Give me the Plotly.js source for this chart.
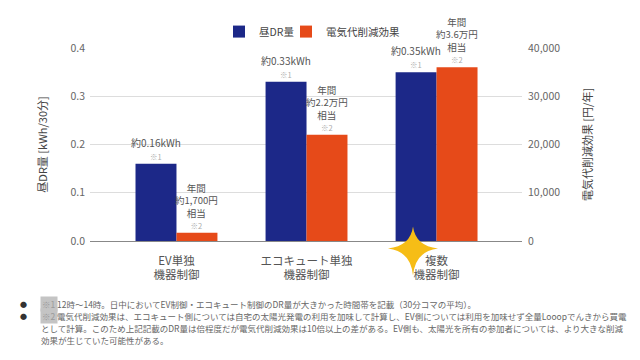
<!DOCTYPE html>
<html>
<head>
<meta charset="utf-8">
<script src="https://cdn.plot.ly/plotly-3.0.1.min.js"></script>
<style>html,body{margin:0;padding:0;background:#fff;}#chart{width:640px;height:360px;}</style>
</head>
<body>
<div id="chart"></div>
<script>
const categories = ['EV単独<br>機器制御', 'エコキュート単独<br>機器制御', '複数<br>機器制御'];
const drValues = [0.16, 0.33, 0.35];
const savingValues = [1700, 22000, 36000];
const drLabels = ['約0.16kWh', '約0.33kWh', '約0.35kWh'];
const savingLabels = ['約1,700円', '約2.2万円', '約3.6万円'];
const seriesNames = ['昼DR量', '電気代削減効果'];
const leftTicks = [0, 0.1, 0.2, 0.3, 0.4];
const rightTicks = [0, 10000, 20000, 30000, 40000];
const rightTickText = ['0', '10,000', '20,000', '30,000', '40,000'];
const footnote1 = '12時～14時。日中においてEV制御・エコキュート制御のDR量が大きかった時間帯を記載（30分コマの平均）。';
const footnote2 = [
  '電気代削減効果は、エコキュート側については自宅の太陽光発電の利用を加味して計算し、EV側については利用を加味せず全量Looopでんきから買電',
  'として計算。このため上記記載のDR量は倍程度だが電気代削減効果は10倍以上の差がある。EV側も、太陽光を所有の参加者については、より大きな削減',
  '効果が生じていた可能性がある。'
];

const FONT = '"Noto Sans CJK JP", "Noto Sans", sans-serif';
const BLUE = '#1c2888';
const ORANGE = '#e64a19';
const TXT = '#555555';
const NOTE = "<span style='font-size:7.5px;color:#aaaaaa'>";

// plot area geometry (pixels)
const L = 90, R = 522, T = 48, B = 241.5;
const px = x => (x - L) / (R - L);
const py = y => (B - y) / (B - T);

const traces = [
  {type: 'bar', name: seriesNames[0], x: categories, y: drValues, yaxis: 'y', offsetgroup: '1',
   marker: {color: BLUE}, hoverinfo: 'skip', legend: 'legend'},
  {type: 'bar', name: seriesNames[1], x: categories, y: savingValues, yaxis: 'y2', offsetgroup: '2',
   marker: {color: ORANGE}, hoverinfo: 'skip', legend: 'legend2'}
];

const off = (1 - 0.37) / 4;
const annotations = [];
function ann(x, y, yref, text, size) {
  annotations.push({x: x, y: y, xref: 'x', yref: yref, text: text, showarrow: false,
    xanchor: 'center', yanchor: 'bottom', yshift: 1, borderpad: 0,
    font: {family: FONT, size: size, color: TXT}});
}
drValues.forEach((v, i) => {
  ann(i - off, v, 'y', drLabels[i] + '<br>' + NOTE + '※1</span>', 10);
});
savingValues.forEach((v, i) => {
  ann(i + off, v, 'y2', '年間<br>' + savingLabels[i] + '<br>相当<br>' + NOTE + '※2</span>', 9.5);
});

// footnotes
function pann(x, y, text, opts) {
  annotations.push(Object.assign({x: px(x), y: py(y), xref: 'paper', yref: 'paper', text: text,
    showarrow: false, xanchor: 'left', yanchor: 'middle', borderpad: 0,
    font: {family: FONT, size: 8.5, color: '#666666'}}, opts || {}));
}
const fy = [305, 317, 329, 341];
pann(19, fy[0], '●', {font: {family: FONT, size: 7, color: '#333'}});
pann(19, fy[1], '●', {font: {family: FONT, size: 7, color: '#333'}});
pann(40, fy[0], '※1', {bgcolor: '#c4c4c4', borderpad: 1, font: {family: FONT, size: 8.5, color: '#9a9a9a'}});
pann(40, fy[1], '※2', {bgcolor: '#c4c4c4', borderpad: 1, font: {family: FONT, size: 8.5, color: '#9a9a9a'}});
pann(56, fy[0], footnote1);
pann(56, fy[1], footnote2[0]);
pann(40, fy[2], footnote2[1]);
pann(40, fy[3], footnote2[2]);

// decorative 4-point star
function starPath(cx, cy, up, down, left, right, w) {
  const P = (x, y) => px(x).toFixed(4) + ',' + py(y).toFixed(4);
  return 'M' + P(cx, cy - up) +
    ' Q' + P(cx + w, cy - w) + ' ' + P(cx + right, cy) +
    ' Q' + P(cx + w, cy + w) + ' ' + P(cx, cy + down) +
    ' Q' + P(cx - w, cy + w) + ' ' + P(cx - left, cy) +
    ' Q' + P(cx - w, cy - w) + ' ' + P(cx, cy - up) + ' Z';
}

const legendBase = {orientation: 'h', xanchor: 'left', y: py(17), yanchor: 'top',
  font: {family: FONT, size: 10.5, color: '#444'}, itemwidth: 30, tracegroupgap: 0,
  bgcolor: 'rgba(0,0,0,0)'};

const layout = {
  width: 640, height: 360,
  margin: {l: L, r: 640 - R, t: T, b: 360 - B, pad: 0},
  paper_bgcolor: '#ffffff', plot_bgcolor: '#ffffff',
  font: {family: FONT, color: TXT},
  barmode: 'group', bargap: 0.37, bargroupgap: 0,
  showlegend: true,
  legend: Object.assign({}, legendBase, {x: px(219)}),
  legend2: Object.assign({}, legendBase, {x: px(286)}),
  xaxis: {type: 'category', range: [-0.665, 2.657], showgrid: false, zeroline: false,
    showline: false, ticks: '', ticklabelstandoff: 11,
    tickfont: {family: FONT, size: 11.5, color: TXT}, fixedrange: true},
  yaxis: {range: [0, 0.4], tickvals: leftTicks, ticktext: leftTicks.map(v => v.toFixed(1)),
    showgrid: true, gridcolor: '#dddddd', zeroline: true, zerolinecolor: '#888888', zerolinewidth: 1,
    showline: false, ticks: '', ticklabelstandoff: 4,
    tickfont: {family: FONT, size: 10.5, color: '#666'},
    title: {text: '昼DR量 [kWh/30分]', font: {family: FONT, size: 11, color: '#444'}, standoff: 20}},
  yaxis2: {overlaying: 'y', side: 'right', range: [0, 40000], tickvals: rightTicks, ticktext: rightTickText,
    showgrid: false, zeroline: false, showline: false, ticks: '', ticklabelstandoff: 5,
    tickfont: {family: FONT, size: 10.5, color: '#666'},
    title: {text: '電気代削減効果 [円/年]', font: {family: FONT, size: 11, color: '#444'}, standoff: 25}},
  annotations: annotations,
  shapes: [{type: 'path', xref: 'paper', yref: 'paper', layer: 'above',
    path: starPath(413, 249, 22, 27, 25, 25, 2.5),
    fillcolor: '#f6bd16', line: {width: 0}}]
};

Plotly.newPlot('chart', traces, layout, {staticPlot: true, displayModeBar: false});
</script>
</body>
</html>
